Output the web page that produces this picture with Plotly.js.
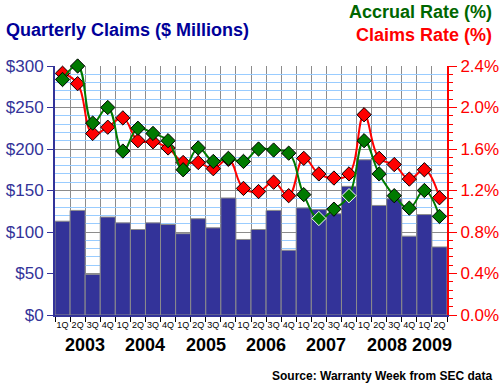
<!DOCTYPE html>
<html>
<head>
<meta charset="utf-8">
<script src="https://cdn.plot.ly/plotly-3.0.1.min.js"></script>
<style>html,body{margin:0;padding:0;background:#fff;}#chart{width:500px;height:385px;}</style>
</head>
<body>
<div id="chart"></div>
<script>
// ---- data ----
var years = ["2003","2004","2005","2006","2007","2008","2009"];
var quarterLabels = ["1Q","2Q","3Q","4Q","1Q","2Q","3Q","4Q","1Q","2Q","3Q","4Q","1Q","2Q","3Q","4Q","1Q","2Q","3Q","4Q","1Q","2Q","3Q","4Q","1Q","2Q"];
var claims = [113,126,49,118,111,103,111,109,98,116,105,141,91,103,126,78,129,127,122,155,187,132,140,95,121,82];
var claimsRate = [2.33,2.23,1.75,1.81,1.90,1.68,1.67,1.61,1.47,1.47,1.41,1.50,1.22,1.19,1.28,1.15,1.51,1.36,1.32,1.36,1.93,1.51,1.45,1.31,1.40,1.13];
var accrualRate = [2.27,2.40,1.85,2.00,1.58,1.80,1.75,1.68,1.40,1.61,1.48,1.51,1.48,1.60,1.59,1.56,1.16,0.93,1.02,1.15,1.68,1.36,1.15,1.03,1.20,0.95];
var yearCenters = [1.5,5.5,9.5,13.5,17.5,21.5,24.5];
var leftTickVals = [0,50,100,150,200,250,300];
var leftTickText = ["$0","$50","$100","$150","$200","$250","$300"];
var rightTickVals = [0,0.4,0.8,1.2,1.6,2.0,2.4];
var rightTickText = ["0.0%","0.4%","0.8%","1.2%","1.6%","2.0%","2.4%"];

var FONT = "Liberation Sans, Arial, sans-serif";
var NAVY = "#333399";
var GREEN = "#007a00";

var xpos = quarterLabels.map(function(q,i){ return i; });
var accrualOutline = accrualRate.map(function(v,i){ return (i===17||i===19) ? "#ffffff" : "#000000"; });

var traces = [
  {type:"bar", x:xpos, y:claims, width:1, marker:{color:NAVY, line:{color:"#8c8c8c", width:1}}, hoverinfo:"skip"},
  {type:"scatter", mode:"lines+markers", x:xpos, y:claimsRate, yaxis:"y2", cliponaxis:false,
   line:{color:"#ff0000", width:2, shape:"spline", smoothing:1.2},
   marker:{symbol:"diamond", size:11, color:"#ff0000", line:{color:"#000000", width:1}}},
  {type:"scatter", mode:"lines+markers", x:xpos, y:accrualRate, yaxis:"y2", cliponaxis:false,
   line:{color:GREEN, width:2, shape:"spline", smoothing:1.2},
   marker:{symbol:"diamond", size:11, color:GREEN, line:{color:accrualOutline, width:1}}}
];

var annotations = [];
for (var i=0;i<years.length;i++){
  annotations.push({xref:"x", yref:"paper", x:yearCenters[i], y:-0.121, yanchor:"middle", xanchor:"center",
    text:"<b>"+years[i]+"</b>", showarrow:false, font:{family:FONT, size:18, color:"#000"}});
}
annotations.push({xref:"paper", yref:"paper", x:1.12, y:-0.245, xanchor:"right", yanchor:"middle",
  text:"<b>Source: Warranty Week from SEC data</b>", showarrow:false, font:{family:FONT, size:12, color:"#000"}});
annotations.push({xref:"paper", yref:"paper", x:-0.129, y:1.145, xanchor:"left", yanchor:"middle",
  text:"<b>Quarterly Claims ($ Millions)</b>", showarrow:false, font:{family:FONT, size:18, color:"#000099"}});
annotations.push({xref:"paper", yref:"paper", x:1.12, y:1.217, xanchor:"right", yanchor:"middle",
  text:"<b>Accrual Rate (%)</b>", showarrow:false, font:{family:FONT, size:18, color:"#006600"}});
annotations.push({xref:"paper", yref:"paper", x:1.12, y:1.125, xanchor:"right", yanchor:"middle",
  text:"<b>Claims Rate (%)</b>", showarrow:false, font:{family:FONT, size:18, color:"#ff0000"}});

var layout = {
  width:500, height:385,
  margin:{l:55, r:53, t:66, b:70, pad:0},
  paper_bgcolor:"#ffffff", plot_bgcolor:"#ffffff",
  showlegend:false, bargap:0,
  font:{family:FONT},
  xaxis:{type:"linear", range:[-0.5,25.5], tickmode:"array", tickvals:xpos, ticktext:quarterLabels,
    tickangle:0, ticks:"", showgrid:false, automargin:false,
    minor:{tick0:-0.5, dtick:1, ticks:"outside", ticklen:5, tickcolor:"#000", showgrid:true, gridcolor:"#8c8c8c", gridwidth:1},
    showline:true, linecolor:NAVY, linewidth:2,
    tickfont:{family:FONT, size:9, color:"#000"}, zeroline:false, fixedrange:true},
  yaxis:{range:[0,300], tickmode:"array", tickvals:leftTickVals, ticktext:leftTickText, automargin:false,
    ticks:"outside", ticklen:6, tickcolor:NAVY, showline:true, linecolor:NAVY, linewidth:2,
    showgrid:true, gridcolor:"#8c8c8c", gridwidth:1, zeroline:false,
    minor:{dtick:10, showgrid:true, gridcolor:"#99ccff", gridwidth:1, ticks:""},
    tickfont:{family:FONT, size:17, color:NAVY}, fixedrange:true},
  yaxis2:{range:[0,2.4], overlaying:"y", side:"right", tickmode:"array", tickvals:rightTickVals, ticktext:rightTickText, automargin:false,
    ticks:"outside", ticklen:8, tickcolor:"#ff0000", showline:true, linecolor:"#ff0000", linewidth:2,
    showgrid:false, zeroline:false,
    minor:{dtick:0.08, ticks:"outside", ticklen:4, tickcolor:"#ff0000", showgrid:false},
    tickfont:{family:FONT, size:17, color:"#ff0000"}, fixedrange:true},
  annotations:annotations
};

Plotly.newPlot("chart", traces, layout, {staticPlot:true, displayModeBar:false});
</script>
</body>
</html>
